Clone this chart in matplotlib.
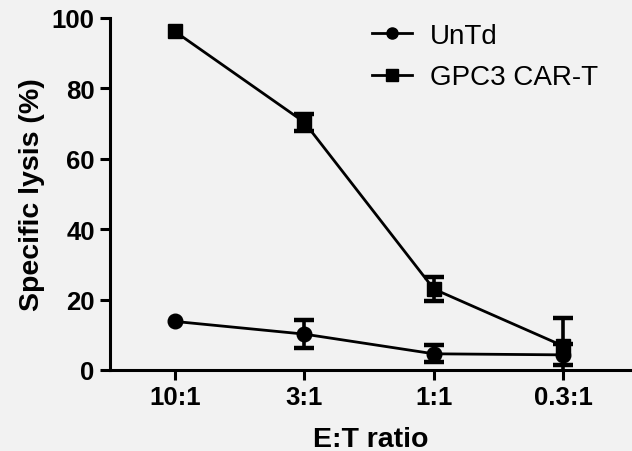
import matplotlib.pyplot as plt
from matplotlib.lines import Line2D

# E:T ratios and specific lysis (%)
ratios = ["10:1", "3:1", "1:1", "0.3:1"]
untd_mean = [13.8, 10.2, 4.6, 4.3]
untd_err = [0.0, 4.0, 2.4, 3.0]
car_mean = [96.2, 70.4, 23.0, 6.8]
car_err = [0.0, 2.4, 3.3, 8.0]

plt.rcParams['font.family'] = ['Liberation Sans', 'DejaVu Sans']
bg = '#f2f2f2'

fig = plt.figure(figsize=(6.32, 4.52), dpi=100, facecolor=bg)
ax = fig.add_axes([110 / 632, 1 - 371 / 452, 522 / 632, 352 / 452], facecolor=bg)

x = list(range(len(ratios)))
for mean, err, mk in [(untd_mean, untd_err, 'o'), (car_mean, car_err, 's')]:
    ax.plot(x, mean, color='black', lw=2.0, marker=mk, markersize=10.5, zorder=3)
    # only the points with a visible SD get bars
    xe = [xi for xi, e in zip(x, err) if e > 0]
    ye = [m for m, e in zip(mean, err) if e > 0]
    ee = [e for e in err if e > 0]
    ax.errorbar(xe, ye, yerr=ee, fmt='none', ecolor='black', elinewidth=2.6,
                capsize=7, capthick=3.2, zorder=3)

ax.set_xlim(-0.5, 3.53)
ax.set_ylim(0, 100)
ax.set_xticks(x)
ax.set_xticklabels(ratios)
ax.set_yticks(range(0, 101, 20))

for s in ['top', 'right']:
    ax.spines[s].set_visible(False)
for s in ['left', 'bottom']:
    ax.spines[s].set_linewidth(2.2)
ax.tick_params(width=2.2, length=7, labelsize=18.5, pad=4)
for lab in ax.get_xticklabels() + ax.get_yticklabels():
    lab.set_fontweight('bold')

ax.set_xlabel('E:T ratio', fontsize=20.5, fontweight='bold', labelpad=12)
ax.set_ylabel('Specific lysis (%)', fontsize=20.5, fontweight='bold', labelpad=5)

handles = [Line2D([], [], color='black', lw=2.0, marker='o', markersize=8),
           Line2D([], [], color='black', lw=2.0, marker='s', markersize=8)]
ax.legend(handles, ['UnTd', 'GPC3 CAR-T'], loc='upper left',
          bbox_to_anchor=(0.48, 1.017), frameon=False, fontsize=20,
          handlelength=1.45, handletextpad=0.65, labelspacing=0.55,
          borderaxespad=0)

fig.savefig('out.png', dpi=100, facecolor=bg)
